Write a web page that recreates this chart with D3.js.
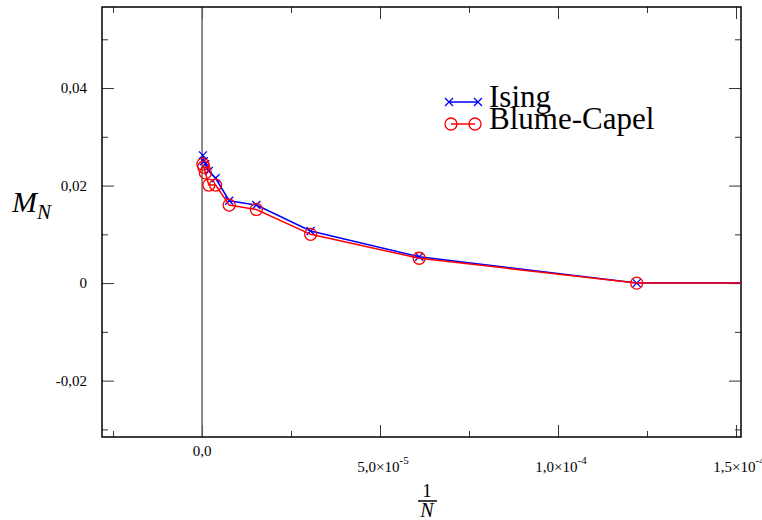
<!DOCTYPE html>
<html><head><meta charset="utf-8">
<script src="https://cdn.jsdelivr.net/npm/d3@7"></script>
<style>
body{margin:0;background:#fff;}
svg text{font-family:"Liberation Serif","DejaVu Serif",serif !important;}
</style></head>
<body><svg id="c" width="762" height="520"></svg>
<script>
// 1/N values and magnetisations
const invN = [2.441e-4, 1.221e-4, 6.10e-5, 3.05e-5, 1.526e-5, 7.63e-6, 3.81e-6, 1.91e-6, 9.5e-7, 4.8e-7, 2.4e-7];
const ising = [0, 0, 0.0054, 0.0107, 0.0160, 0.0169, 0.0215, 0.0230, 0.0244, 0.0250, 0.0262];
const blumeCapel = [0, 0, 0.0051, 0.0100, 0.0151, 0.0160, 0.0201, 0.0201, 0.0226, 0.0238, 0.0244];
const xMajor = [0, 5e-5, 1e-4, 1.5e-4];
const xMajorLabels = [["0,0", null], ["5,0×10", "-5"], ["1,0×10", "-4"], ["1,5×10", "-4"]];
const xMinor = [-2.5e-5, 2.5e-5, 7.5e-5, 1.25e-4];
const yMajor = [-0.02, 0, 0.02, 0.04];
const yMajorLabels = ["-0,02", "0", "0,02", "0,04"];
const yMinor = [-0.03, -0.01, 0.01, 0.03, 0.05];

const svg = d3.select("#c");
svg.append("rect").attr("width",762).attr("height",520).attr("fill","#fff");
const L=102, R=741, T=7, B=437;
const x = d3.scaleLinear().domain([-2.81e-5, 1.514e-4]).range([L, R]);
const y = d3.scaleLinear().domain([-0.03156, 0.05662]).range([B, T]);

svg.append("clipPath").attr("id","clip").append("rect")
  .attr("x",L).attr("y",T).attr("width",R-L).attr("height",B-T);

const tickColor = "#333";
function styleAxis(g){ g.select(".domain").remove(); g.selectAll("line").attr("stroke",tickColor).attr("stroke-width",1); }

// bottom axis
svg.append("g").attr("transform",`translate(0,${B})`)
  .call(d3.axisBottom(x).tickValues(xMajor).tickSize(-12).tickFormat("")).call(styleAxis);
svg.append("g").attr("transform",`translate(0,${B})`)
  .call(d3.axisBottom(x).tickValues(xMinor).tickSize(-6).tickFormat("")).call(styleAxis);
// top axis
svg.append("g").attr("transform",`translate(0,${T})`)
  .call(d3.axisTop(x).tickValues(xMajor).tickSize(-12).tickFormat("")).call(styleAxis);
svg.append("g").attr("transform",`translate(0,${T})`)
  .call(d3.axisTop(x).tickValues(xMinor).tickSize(-6).tickFormat("")).call(styleAxis);
// left axis
const gyl = svg.append("g").attr("transform",`translate(${L},0)`)
  .call(d3.axisLeft(y).tickValues(yMajor).tickSize(-12).tickPadding(15)
    .tickFormat((d,i)=>yMajorLabels[i]));
styleAxis(gyl);
gyl.attr("font-size",15).attr("font-family",null);
gyl.selectAll("text").attr("fill","#000");
svg.append("g").attr("transform",`translate(${L},0)`)
  .call(d3.axisLeft(y).tickValues(yMinor).tickSize(-6).tickFormat("")).call(styleAxis);
// right axis
svg.append("g").attr("transform",`translate(${R},0)`)
  .call(d3.axisRight(y).tickValues(yMajor).tickSize(-12).tickFormat("")).call(styleAxis);
svg.append("g").attr("transform",`translate(${R},0)`)
  .call(d3.axisRight(y).tickValues(yMinor).tickSize(-6).tickFormat("")).call(styleAxis);

// x tick labels with superscripts
xMajor.forEach((v,i)=>{
  const [base, sup] = xMajorLabels[i];
  const t = svg.append("text").attr("x", x(v) + (sup ? 3 : 0)).attr("y", sup ? 472 : 456)
    .attr("text-anchor","middle").attr("font-size",15).attr("fill","#000");
  t.append("tspan").text(base);
  if (sup) t.append("tspan").attr("dy",-8).attr("font-size",11).text(sup);
});

// zero vertical line
svg.append("line").attr("x1",x(0)).attr("x2",x(0)).attr("y1",T).attr("y2",B)
  .attr("stroke","#666").attr("stroke-width",1.5);

// frame
svg.append("rect").attr("x",L).attr("y",T).attr("width",R-L).attr("height",B-T)
  .attr("fill","none").attr("stroke","#000").attr("stroke-width",1.5);

const plot = svg.append("g").attr("clip-path","url(#clip)");
const line = d3.line().x(d=>x(d[0])).y(d=>y(d[1]));
const isingData = invN.map((v,i)=>[v, ising[i]]);
const bcData = invN.map((v,i)=>[v, blumeCapel[i]]);

function cross(g, cx, cy, s){
  g.append("path").attr("d",`M${cx-s},${cy-s}L${cx+s},${cy+s}M${cx-s},${cy+s}L${cx+s},${cy-s}`)
    .attr("stroke","#0000ff").attr("stroke-width",1.3).attr("fill","none");
}
plot.append("path").datum(isingData).attr("d",line).attr("fill","none")
  .attr("stroke","#0000ff").attr("stroke-width",1.5);
isingData.forEach(d=>cross(plot, x(d[0]), y(d[1]), 4));
plot.append("path").datum(bcData).attr("d",line).attr("fill","none")
  .attr("stroke","#ff0000").attr("stroke-width",1.5);
plot.selectAll("circle.bc").data(bcData).join("circle").attr("class","bc")
  .attr("cx",d=>x(d[0])).attr("cy",d=>y(d[1])).attr("r",6)
  .attr("fill","none").attr("stroke","#ff0000").attr("stroke-width",1.3);

// legend
const lg = svg.append("g");
lg.append("line").attr("x1",449).attr("x2",478).attr("y1",102).attr("y2",102)
  .attr("stroke","#0000ff").attr("stroke-width",1.5);
cross(lg,449,102,4); cross(lg,478,102,4);
lg.append("text").attr("x",489).attr("y",107).attr("font-size",31).attr("fill","#000").text("Ising");
lg.append("line").attr("x1",451).attr("x2",475).attr("y1",124).attr("y2",124)
  .attr("stroke","#ff0000").attr("stroke-width",1.5);
[451,475].forEach(cx=>lg.append("circle").attr("cx",cx).attr("cy",124).attr("r",6)
  .attr("fill","none").attr("stroke","#ff0000").attr("stroke-width",1.3));
lg.append("text").attr("x",489).attr("y",129).attr("font-size",31).attr("fill","#000").text("Blume-Capel");

// y axis label
const yl = svg.append("text").attr("x",12).attr("y",212).attr("font-size",30)
  .attr("font-style","italic").attr("fill","#000");
yl.append("tspan").text("M");
yl.append("tspan").attr("dy",7).attr("font-size",21).text("N");

// x axis label: fraction 1/N
svg.append("text").attr("x",427).attr("y",497).attr("text-anchor","middle")
  .attr("font-size",19).attr("fill","#000").text("1");
svg.append("line").attr("x1",418).attr("x2",437).attr("y1",501).attr("y2",501)
  .attr("stroke","#000").attr("stroke-width",1.5);
svg.append("text").attr("x",427).attr("y",517).attr("text-anchor","middle")
  .attr("font-size",20).attr("font-style","italic").attr("fill","#000").text("N");
</script></body></html>
